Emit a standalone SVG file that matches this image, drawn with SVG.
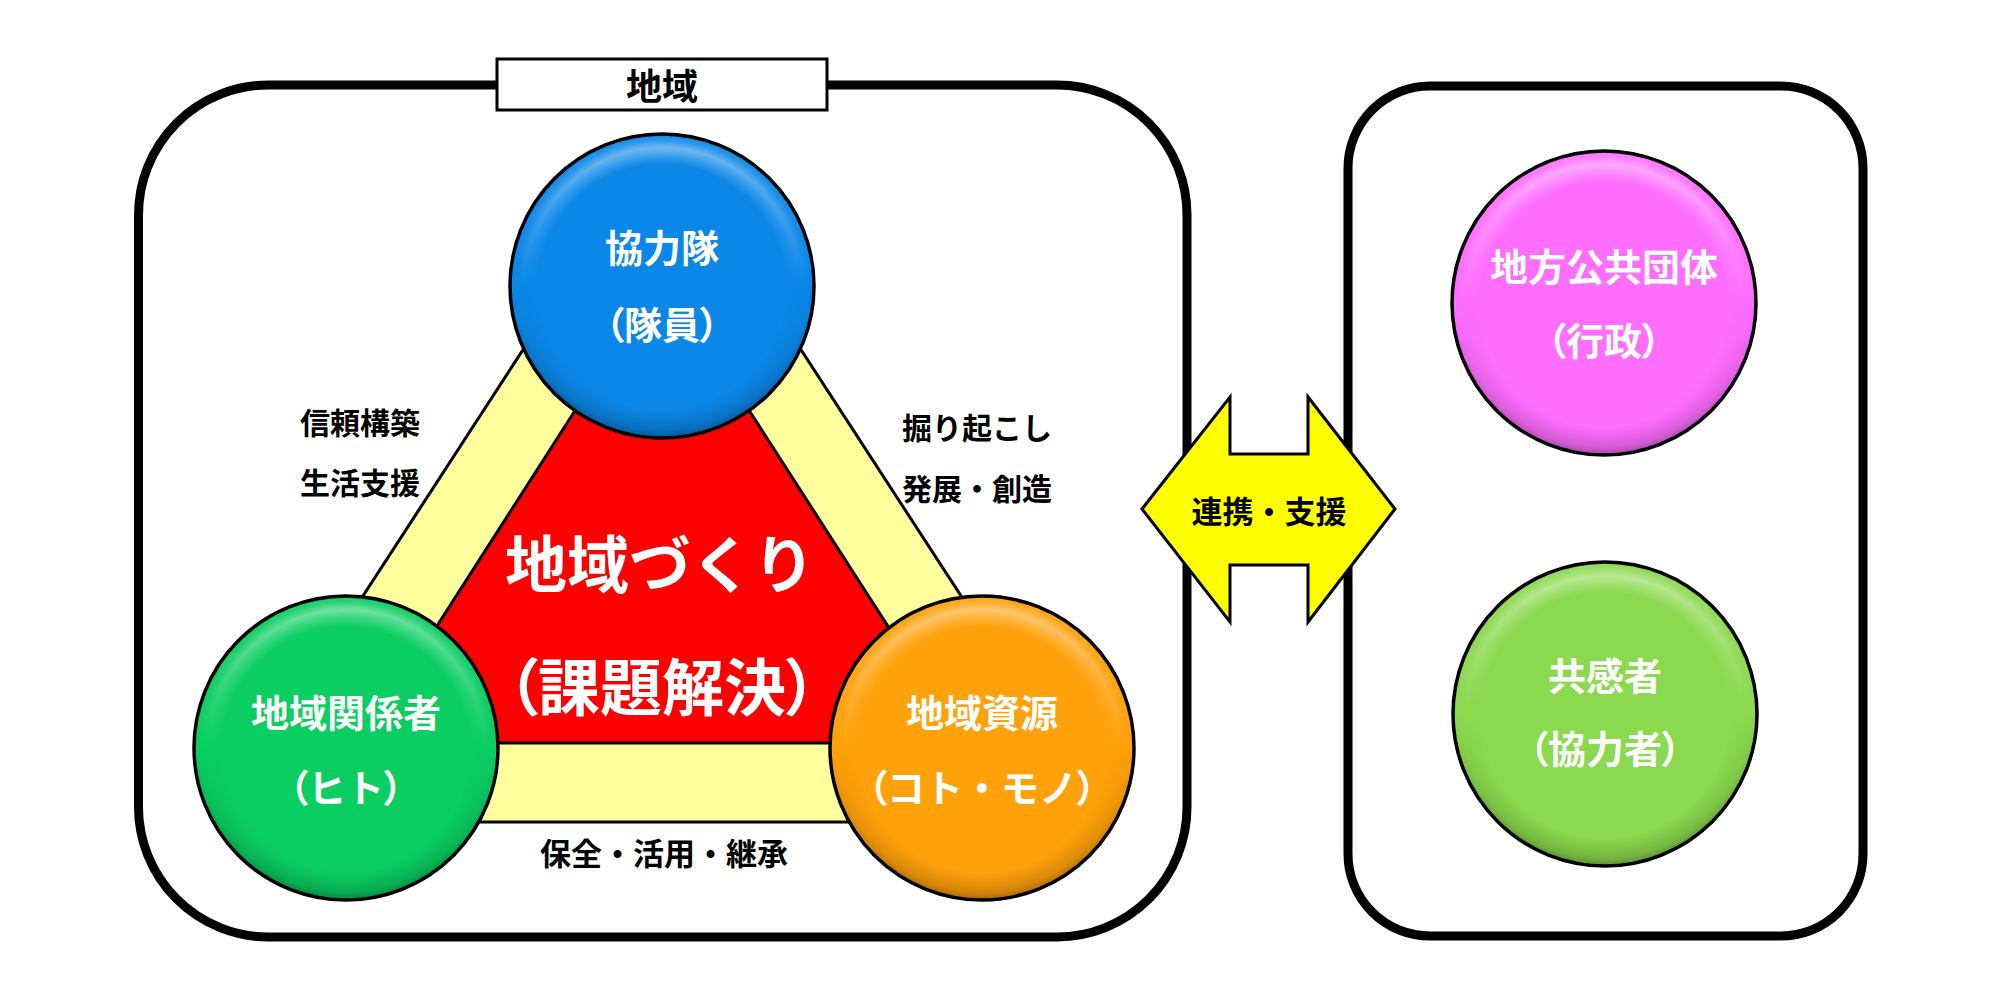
<svg xmlns="http://www.w3.org/2000/svg" width="2000" height="1000" viewBox="0 0 2000 1000">
<style>
text{font-family:"Noto Sans CJK JP","Noto Sans CJK SC",sans-serif;font-weight:bold;}
.w{fill:#fff;font-size:38px;text-anchor:middle;dominant-baseline:central;}
.lbl{fill:#000;font-size:30px;dominant-baseline:central;}
.big{fill:#fff;font-size:62px;text-anchor:middle;dominant-baseline:central;}
.p{font-feature-settings:"palt" 1;}
.ring{fill:none;stroke:#000;stroke-width:3.5;}
.box{fill:#fff;stroke:#000;stroke-width:9;}
</style>
<defs>
<radialGradient id="rimHi" cx="0.5" cy="0.5" r="0.5">
<stop offset="0.80" stop-color="#fff" stop-opacity="0"/>
<stop offset="0.91" stop-color="#fff" stop-opacity="0.45"/>
<stop offset="0.96" stop-color="#fff" stop-opacity="0.15"/>
<stop offset="1" stop-color="#fff" stop-opacity="0"/>
</radialGradient>
<radialGradient id="rimLo" cx="0.5" cy="0.5" r="0.5">
<stop offset="0.82" stop-color="#000" stop-opacity="0"/>
<stop offset="0.95" stop-color="#000" stop-opacity="0.18"/>
<stop offset="1" stop-color="#000" stop-opacity="0.35"/>
</radialGradient>
<linearGradient id="gTop" x1="0" y1="0" x2="0" y2="1">
<stop offset="0" stop-color="#fff"/>
<stop offset="0.5" stop-color="#000"/>
</linearGradient>
<linearGradient id="gBot" x1="0" y1="0" x2="0" y2="1">
<stop offset="0.5" stop-color="#000"/>
<stop offset="1" stop-color="#fff"/>
</linearGradient>
<mask id="mTop" maskContentUnits="objectBoundingBox"><rect width="1" height="1" fill="url(#gTop)"/></mask>
<mask id="mBot" maskContentUnits="objectBoundingBox"><rect width="1" height="1" fill="url(#gBot)"/></mask>
</defs>
<rect width="2000" height="1000" fill="#fff"/>

<g id="region-box">
<rect class="box" x="138.5" y="85" width="1048.5" height="852" rx="130" ry="130"/>
<rect x="497" y="59" width="330" height="51" fill="#fff" stroke="#000" stroke-width="3"/>
<text x="662" y="84" style="font-size:36px;fill:#000;text-anchor:middle;dominant-baseline:central;">地域</text>
</g>

<g id="partner-box">
<rect class="box" x="1348" y="86" width="515" height="850" rx="82" ry="82"/>
</g>

<g id="triangle">
<polygon points="662,136 1108,822 216,822" fill="#FFFF9E" stroke="#000" stroke-width="3"/>
<polygon points="662,275 963,743 362,743" fill="#FF0000" stroke="#000" stroke-width="3"/>
<text class="big" x="660" y="561">地域づくり</text>
<text class="big" x="662" y="684"><tspan class="p">（</tspan>課題解決<tspan class="p">）</tspan></text>
</g>

<g id="node-kyoryokutai" transform="translate(662,286)">
<circle r="152" fill="#0B87E8"/>
<circle r="152" fill="url(#rimHi)" mask="url(#mTop)"/>
<circle r="152" fill="url(#rimLo)" mask="url(#mBot)"/>
<circle r="152" class="ring"/>
<text class="w" x="0" y="-41">協力隊</text>
<text class="w" x="0" y="36"><tspan class="p">（</tspan>隊員<tspan class="p">）</tspan></text>
</g>

<g id="node-kankeisha" transform="translate(346,748)">
<circle r="152" fill="#0ACE62"/>
<circle r="152" fill="url(#rimHi)" mask="url(#mTop)"/>
<circle r="152" fill="url(#rimLo)" mask="url(#mBot)"/>
<circle r="152" class="ring"/>
<text class="w" x="0" y="-38">地域関係者</text>
<text class="w" x="0" y="37"><tspan class="p">（</tspan>ヒト<tspan class="p">）</tspan></text>
</g>

<g id="node-shigen" transform="translate(982,748)">
<circle r="152" fill="#FFA10A"/>
<circle r="152" fill="url(#rimHi)" mask="url(#mTop)"/>
<circle r="152" fill="url(#rimLo)" mask="url(#mBot)"/>
<circle r="152" class="ring"/>
<text class="w" x="0" y="-38">地域資源</text>
<text class="w" x="0" y="37"><tspan class="p">（</tspan>コト・モノ<tspan class="p">）</tspan></text>
</g>

<g id="labels">
<text class="lbl" x="300" y="421">信頼構築</text>
<text class="lbl" x="300" y="481">生活支援</text>
<text class="lbl" x="902" y="426">掘り起こし</text>
<text class="lbl" x="902" y="487">発展・創造</text>
<text class="lbl" x="664" y="851" style="text-anchor:middle;font-size:31px;">保全・活用・継承</text>
</g>

<g id="node-gyosei" transform="translate(1604,303)">
<circle r="152" fill="#FF6EFF"/>
<circle r="152" fill="url(#rimHi)" mask="url(#mTop)"/>
<circle r="152" fill="url(#rimLo)" mask="url(#mBot)"/>
<circle r="152" class="ring"/>
<text class="w" x="0" y="-39">地方公共団体</text>
<text class="w" x="0" y="35"><tspan class="p">（</tspan>行政<tspan class="p">）</tspan></text>
</g>

<g id="node-kyokansha" transform="translate(1605,714)">
<circle r="152" fill="#8BD94E"/>
<circle r="152" fill="url(#rimHi)" mask="url(#mTop)"/>
<circle r="152" fill="url(#rimLo)" mask="url(#mBot)"/>
<circle r="152" class="ring"/>
<text class="w" x="0" y="-41">共感者</text>
<text class="w" x="0" y="32"><tspan class="p">（</tspan>協力者<tspan class="p">）</tspan></text>
</g>

<g id="connectors">
<polygon points="1142,509 1230,397 1230,454 1308,454 1308,397 1395,509 1308,622 1308,565 1230,565 1230,622" fill="#FFFF00" stroke="#000" stroke-width="3" stroke-linejoin="miter"/>
<text x="1269" y="509" style="font-size:31px;fill:#000;text-anchor:middle;dominant-baseline:central;">連携・支援</text>
</g>
</svg>
